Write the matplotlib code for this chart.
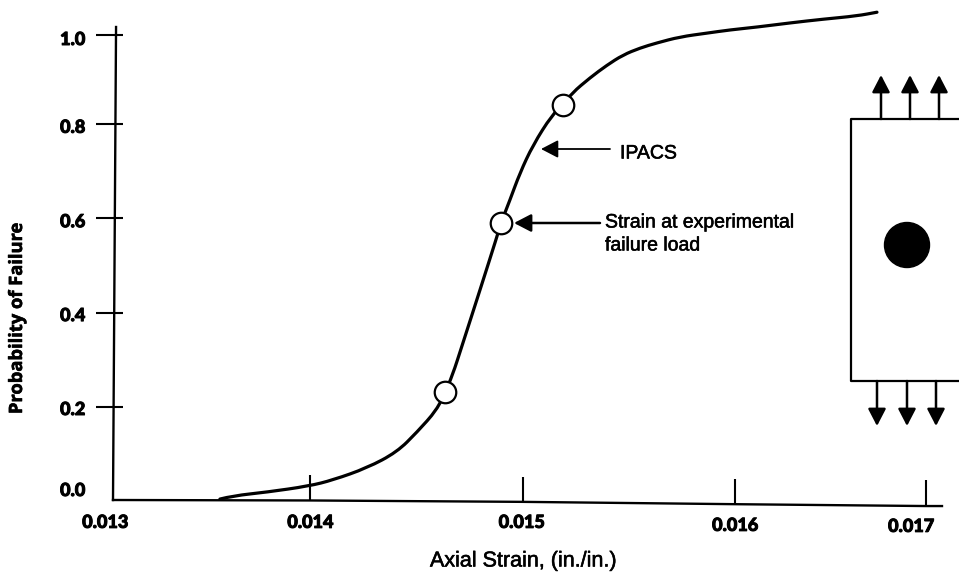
import matplotlib
matplotlib.use("Agg")
import matplotlib.pyplot as plt
import matplotlib.patheffects as pe
from matplotlib.patches import Circle, PathPatch
from matplotlib.path import Path
from matplotlib.transforms import ScaledTranslation

strain = [0.013526, 0.013590, 0.013758, 0.013964, 0.014082, 0.014250, 0.014397,
          0.014496, 0.014594, 0.014633, 0.014668, 0.014722, 0.014806, 0.014889,
          0.014909, 0.014953, 0.015002, 0.015066, 0.015160, 0.015214, 0.015258,
          0.015347, 0.015430, 0.015509, 0.015593, 0.015676, 0.015790, 0.015922,
          0.016036, 0.016168, 0.016331, 0.016493, 0.016660, 0.016759]
prob = [0.002, 0.009, 0.017, 0.030, 0.043, 0.069, 0.103,
        0.146, 0.194, 0.232, 0.265, 0.338, 0.452, 0.566,
        0.596, 0.645, 0.703, 0.763, 0.828, 0.849, 0.875,
        0.908, 0.935, 0.957, 0.972, 0.983, 0.996, 1.004,
        1.011, 1.017, 1.026, 1.034, 1.041, 1.049]

marker_strain = [0.014633, 0.014909, 0.015214]
marker_prob = [0.232, 0.596, 0.849]

# the scanned axes are not quite straight, so ticks sit off the even spacing
xtick_pos = [0.013, 0.01397, 0.015015, 0.01606, 0.017]
xtick_labels = ["0.013", "0.014", "0.015", "0.016", "0.017"]
xtick_top = [0.0, 0.054, 0.049, 0.046, 0.043]
xaxis_x = [0.013, 0.01397, 0.015015, 0.01606, 0.017, 0.017079]
xaxis_y = [0.0, -0.001, -0.004, -0.009, -0.013, -0.013]
ytick_pos = [0.0, 0.2, 0.402, 0.606, 0.809, 1.0]
ytick_labels = ["0.0", "0.2", "0.4", "0.6", "0.8", "1.0"]

W, H = 959, 576
fig = plt.figure(figsize=(W / 100, H / 100), dpi=100)
ax = fig.add_axes([113 / W, (H - 500) / H, 829 / W, 473 / H])
ax.set_xlim(0.013, 0.017079)
ax.set_ylim(0, 1.0172)
ax.patch.set_visible(False)
for s in ax.spines.values():
    s.set_visible(False)

# quadratic segments through the read points, so the pen line has no corners
pts = list(zip(strain, prob))
verts = [pts[0]]
codes = [Path.MOVETO]
for a, b in zip(pts[1:-1], pts[2:]):
    verts += [a, ((a[0] + b[0]) / 2, (a[1] + b[1]) / 2)]
    codes += [Path.CURVE3, Path.CURVE3]
verts.append(pts[-1])
codes.append(Path.LINETO)
ax.add_patch(PathPatch(Path(verts, codes), fc="none", ec="black", lw=2.3, clip_on=False,
                       capstyle="round", joinstyle="round"))
ax.plot(marker_strain, marker_prob, "o", ms=15.5, mfc="white", mec="black", mew=1.6,
        clip_on=False, zorder=3)

# axis lines
ax.plot(xaxis_x, xaxis_y, color="black", lw=1.7, clip_on=False)
ax.plot([0.013, 0.013015], [0, 1.0172], color="black", lw=1.7, clip_on=False)
ax.vlines(xtick_pos[1:], [-0.001, -0.004, -0.009, -0.013], xtick_top[1:], color="black",
          lw=1.5, clip_on=False)

ax.set_xticks(xtick_pos, xtick_labels)
ax.set_yticks(ytick_pos, ytick_labels)
ax.yaxis.remove_overlapping_locs = False
ax.set_yticks(ytick_pos[1:], minor=True)
ax.tick_params(axis="x", length=0, pad=10)
ax.tick_params(axis="y", which="major", direction="out", length=12.2, width=1.5, pad=8)
ax.tick_params(axis="y", which="minor", direction="in", length=7.2, width=1.5)
heavy = [pe.withStroke(linewidth=0.7, foreground="black")]
for lab in ax.get_xticklabels() + ax.get_yticklabels():
    lab.set(family="Lato", weight="black", fontsize=13, path_effects=heavy)

x_shift = [-8, 0, -1, 0, -15]
y_shift = [0, 0, 0, -3, -4]
for lab, dx, dy in zip(ax.get_xticklabels(), x_shift, y_shift):
    lab.set_transform(lab.get_transform() + ScaledTranslation(dx / 100, dy / 100, fig.dpi_scale_trans))
ylab_shift = [11, -1, -1, -2, -2, -3]
for lab, dy in zip(ax.get_yticklabels(), ylab_shift):
    lab.set_transform(lab.get_transform() + ScaledTranslation(0, dy / 100, fig.dpi_scale_trans))
ax.yaxis.get_major_ticks()[0].tick1line.set_visible(False)

# overlay in pixels for the notes and the specimen sketch
ov = fig.add_axes([0, 0, 1, 1])
ov.set_xlim(0, W)
ov.set_ylim(H, 0)
ov.axis("off")

ink = [pe.withStroke(linewidth=0.4, foreground="black")]
ov.text(17, 318, "Probability of Failure", rotation=90, ha="center", va="center",
        family="Open Sans", weight="bold", fontsize=13.2, path_effects=ink)
ov.text(523, 561, "Axial Strain, (in./in.)", ha="center", va="center",
        family="Liberation Sans", fontsize=15.5, path_effects=ink)
ov.text(620, 154, "IPACS", ha="left", va="center", family="Liberation Sans", fontsize=14,
        path_effects=ink)
ov.text(605, 223, "Strain at experimental", ha="left", va="center",
        family="Liberation Sans", fontsize=14, path_effects=ink)
ov.text(605, 246, "failure load", ha="left", va="center", family="Liberation Sans", fontsize=14,
        path_effects=ink)


def arrow(x0, y0, x1, y1, lw=1.8):
    ov.annotate("", xy=(x1, y1), xytext=(x0, y0),
                arrowprops=dict(arrowstyle="-|>,head_width=0.27,head_length=0.52", color="black",
                                lw=lw, shrinkA=0, shrinkB=0, mutation_scale=20))


arrow(610, 149, 541, 149, lw=1.3)
arrow(600, 223, 514, 223)
for x in [881, 910, 939]:
    arrow(x, 119, x, 75)
for x in [877, 907, 936]:
    arrow(x, 381, x, 426)

ov.plot([959, 851, 851, 959], [119, 119, 381, 381], color="black", lw=1.6, clip_on=False)
ov.add_patch(Circle((907, 245), 22.5, color="black"))

fig.savefig("out.png", dpi=100)
